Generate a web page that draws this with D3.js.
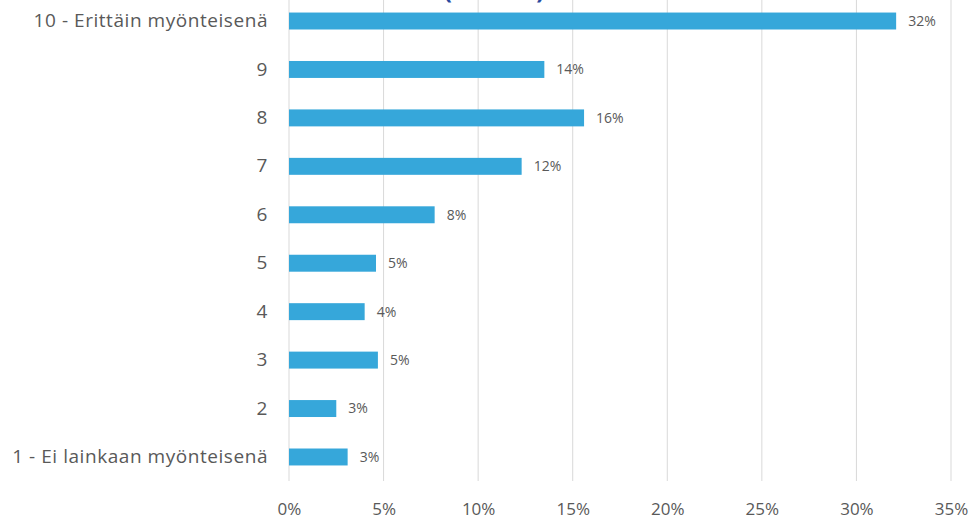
<!DOCTYPE html>
<html><head><meta charset="utf-8">
<script src="https://cdn.jsdelivr.net/npm/d3@7"></script>
<style>body{margin:0;background:#fff}svg{display:block}</style>
</head><body>
<svg id="c" width="971" height="519"></svg>
<script>
const categories = ["10 - Erittäin myönteisenä","9","8","7","6","5","4","3","2","1 - Ei lainkaan myönteisenä"];
const values = [32.1,13.5,15.6,12.3,7.7,4.6,4.0,4.7,2.5,3.1];
const labels = ["32%","14%","16%","12%","8%","5%","4%","5%","3%","3%"];
const ticks = [0,5,10,15,20,25,30,35];

const svg = d3.select("#c");
const font = "'Open Sans', sans-serif";
const x = d3.scaleLinear().domain([0,35]).range([289,951]);
const y = d3.scaleBand().domain(categories).range([-3.2,481.2]).paddingInner(0.65).paddingOuter(0.325);

// title (cut off at the top edge, as in the reference)
svg.append("text").attr("x",494).attr("y",-1).attr("text-anchor","middle")
  .attr("font-family",font).attr("font-size",24).attr("font-weight","bold").attr("fill","#2a4aa0")
  .text("(n=1000)");

const g = svg.append("g");
g.selectAll("line.grid").data(ticks).join("line").attr("class","grid")
  .attr("x1",d=>x(d)).attr("x2",d=>x(d)).attr("y1",0).attr("y2",481)
  .attr("stroke","#d9d9d9").attr("stroke-width",1);

const xAxis = d3.axisBottom(x).tickValues(ticks).tickFormat(d=>d+"%").tickSize(0).tickPadding(0);
const ax = svg.append("g").attr("transform","translate(0,499)").call(xAxis);
ax.select(".domain").remove();
ax.selectAll("text").attr("font-family",font).attr("font-size",17).attr("fill","#595959").attr("dy","0.95em");

const yAxis = d3.axisLeft(y).tickSize(0).tickPadding(0);
const ay = svg.append("g").attr("transform","translate(268,0)").call(yAxis);
ay.select(".domain").remove();
ay.selectAll("text").attr("font-family",font).attr("font-size",19).attr("letter-spacing","0.55px").attr("fill","#595959");

g.selectAll("rect").data(values).join("rect")
  .attr("x",x(0)).attr("y",(d,i)=>y(categories[i]))
  .attr("width",d=>x(d)-x(0)).attr("height",y.bandwidth())
  .attr("fill","#36a7da");

g.selectAll("text.val").data(values).join("text").attr("class","val")
  .attr("x",d=>x(d)+12).attr("y",(d,i)=>y(categories[i])+y.bandwidth()/2)
  .attr("dy","0.35em").attr("font-family",font).attr("font-size",14).attr("fill","#595959")
  .text((d,i)=>labels[i]);
</script>
</body></html>
